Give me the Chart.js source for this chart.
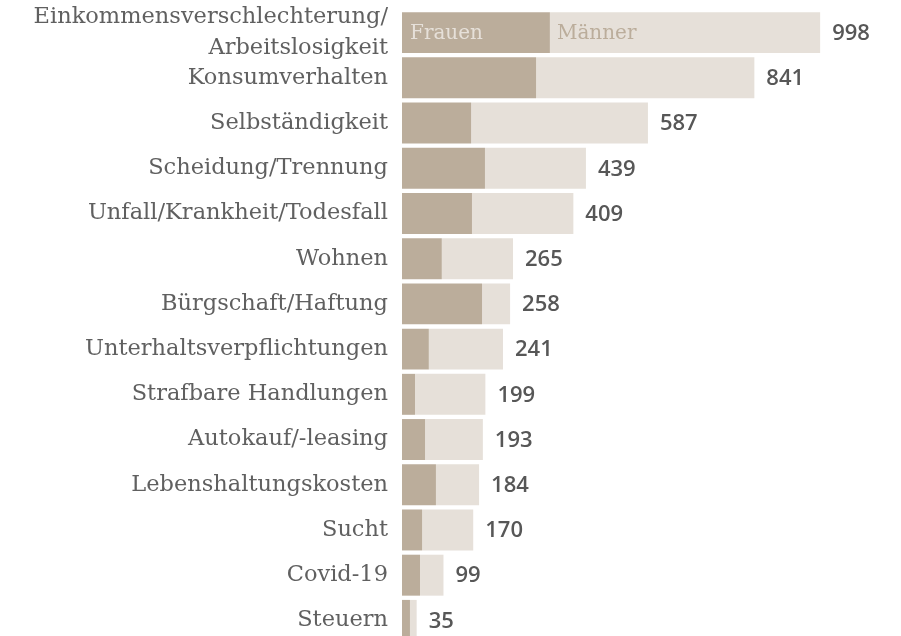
<!DOCTYPE html>
<html>
<head>
<meta charset="utf-8">
<script src="https://cdn.jsdelivr.net/npm/chart.js@4"></script>
<style>
    html, body { margin: 0; padding: 0; background: #fff; overflow: hidden; }
    #wrap { position: relative; width: 901px; height: 643px; }
</style>
</head>
<body>
<div id="wrap"><canvas id="chart"></canvas></div>
<script>
const categories = [
    ['Einkommensverschlechterung/', 'Arbeitslosigkeit'],
    'Konsumverhalten',
    'Selbständigkeit',
    'Scheidung/Trennung',
    'Unfall/Krankheit/Todesfall',
    'Wohnen',
    'Bürgschaft/Haftung',
    'Unterhaltsverpflichtungen',
    'Strafbare Handlungen',
    'Autokauf/-leasing',
    'Lebenshaltungskosten',
    'Sucht',
    'Covid-19',
    'Steuern'
];
const totals = [998, 841, 587, 439, 409, 265, 258, 241, 199, 193, 184, 170, 99, 35];
const frauen = [353, 320, 165, 198, 167, 95, 191, 64, 31, 55, 81, 48, 43, 19];
const maenner = [645, 521, 422, 241, 242, 170, 67, 177, 168, 138, 103, 122, 56, 16];

const colFrauen = '#bbad9b';
const colMaenner = '#e6e0d9';
const labelFont = '"DejaVu Serif", serif';
const valueFont = '"Open Sans", sans-serif';

// totals at the end of each bar + series names inside the first bar
const labelPlugin = {
    id: 'barLabels',
    afterDatasetsDraw(chart) {
        const ctx = chart.ctx;
        const m0 = chart.getDatasetMeta(0);
        const m1 = chart.getDatasetMeta(1);
        ctx.save();
        ctx.textBaseline = 'middle';
        ctx.textAlign = 'left';
        ctx.font = '600 22px ' + valueFont;
        ctx.fillStyle = '#575757';
        m1.data.forEach(function(bar, i) {
            ctx.fillText(String(totals[i]), bar.x + 12, bar.y + 1);
        });
        ctx.font = '20px ' + labelFont;
        ctx.fillStyle = '#e6e0d9';
        ctx.fillText('Frauen', m0.data[0].base + 8, m0.data[0].y + 1);
        ctx.fillStyle = '#bbad9b';
        ctx.fillText('Männer', m1.data[0].base + 7, m1.data[0].y + 1);
        ctx.restore();
    }
};

new Chart(document.getElementById('chart'), {
    type: 'bar',
    data: {
        labels: categories,
        datasets: [
            { label: 'Frauen', data: frauen, backgroundColor: colFrauen },
            { label: 'Männer', data: maenner, backgroundColor: colMaenner }
        ]
    },
    options: {
        indexAxis: 'y',
        responsive: true,
        maintainAspectRatio: false,
        animation: false,
        barPercentage: 0.906,
        categoryPercentage: 1,
        layout: { padding: { top: 10, right: 0, bottom: 0, left: 0 } },
        plugins: {
            legend: { display: false },
            tooltip: { enabled: false }
        },
        scales: {
            x: {
                stacked: true,
                display: false,
                min: 0,
                max: 1191
            },
            y: {
                stacked: true,
                grid: { display: false, drawTicks: false },
                border: { display: false },
                ticks: {
                    autoSkip: false,
                    color: '#606060',
                    padding: 14,
                    font: { family: labelFont, size: 22.5, lineHeight: 1.4 }
                },
                afterFit(scale) {
                    scale.width = 402;
                    scale.paddingTop = 0;
                    scale.paddingBottom = 0;
                }
            }
        }
    },
    plugins: [labelPlugin]
});
</script>
</body>
</html>
